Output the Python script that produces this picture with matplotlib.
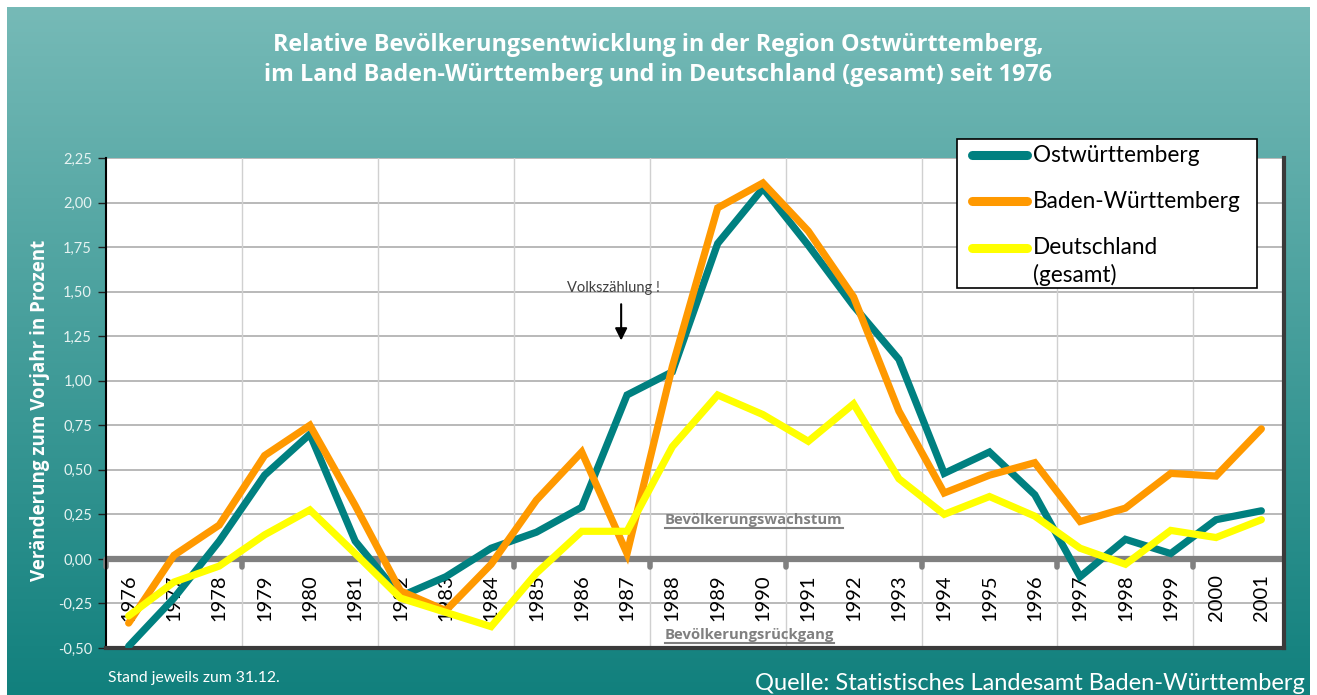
import numpy as np
import matplotlib
matplotlib.use("Agg")
import matplotlib.pyplot as plt
from matplotlib.lines import Line2D
from matplotlib.patches import Rectangle
from matplotlib.colors import LinearSegmentedColormap

years = [str(y) for y in range(1976, 2002)]
ostwuerttemberg = [-0.49, -0.22, 0.10, 0.47, 0.70, 0.10, -0.21, -0.10, 0.06, 0.15,
                   0.29, 0.92, 1.05, 1.77, 2.08, 1.76, 1.42, 1.12, 0.48, 0.60,
                   0.36, -0.10, 0.11, 0.03, 0.22, 0.27]
baden_wuerttemberg = [-0.36, 0.02, 0.19, 0.58, 0.75, 0.30, -0.18, -0.29, -0.03, 0.33,
                      0.60, 0.03, 1.08, 1.97, 2.11, 1.84, 1.47, 0.83, 0.37, 0.47,
                      0.54, 0.21, 0.285, 0.48, 0.465, 0.73]
deutschland = [-0.32, -0.13, -0.04, 0.135, 0.275, 0.03, -0.22, -0.30, -0.38, -0.08,
               0.155, 0.155, 0.63, 0.92, 0.81, 0.66, 0.87, 0.45, 0.25, 0.35,
               0.24, 0.06, -0.03, 0.16, 0.12, 0.22]
series_names = ["Ostwürttemberg", "Baden-Württemberg", "Deutschland\n(gesamt)"]
series_colors = ["#008080", "#FF9900", "#FFFF00"]
yticks = [-0.5, -0.25, 0.0, 0.25, 0.5, 0.75, 1.0, 1.25, 1.5, 1.75, 2.0, 2.25]

W, H = 1317, 695
fig = plt.figure(figsize=(W / 100, H / 100), dpi=100)
fig.patch.set_facecolor("white")

# gradient background panel (light at top, dark at bottom)
bg = fig.add_axes([7 / W, 0, (1310 - 7) / W, 1 - 7 / H])
bg.set_axis_off()
cmap = LinearSegmentedColormap.from_list("g", ["#76bab7", "#11807d"])
grad = np.linspace(0, 1, 256).reshape(-1, 1)
bg.imshow(grad, aspect="auto", cmap=cmap, origin="upper")

left, right, bottom, top = 106 / W, 1284 / W, 1 - 648 / H, 1 - 158 / H
ax = fig.add_axes([left, bottom, right - left, top - bottom])
ax.set_facecolor("white")
x = np.arange(len(years))
ax.set_xlim(-0.5, len(years) - 0.5)
ax.set_ylim(-0.5, 2.25)

# grid
for v in yticks:
    ax.axhline(v, color="#a6a6a6", lw=1.1, zorder=1)
for b in np.arange(2.5, len(years) - 0.5, 3):
    ax.axvline(b, color="#d0d0d0", lw=1.0, zorder=1)

# zero line with nubs
ax.axhline(0, color="#808080", lw=4.5, zorder=2, solid_capstyle="butt")
for b in np.arange(-0.5, len(years) - 0.5, 3):
    ax.plot([b, b], [0, -0.045], color="#808080", lw=4, solid_capstyle="round", zorder=2, clip_on=False)

for vals, name, col in zip([ostwuerttemberg, baden_wuerttemberg, deutschland], series_names, series_colors):
    ax.plot(x, vals, color=col, lw=5.2, label=name, zorder=4, solid_joinstyle="miter", solid_capstyle="round")

# year labels below zero line
for xi, yr in zip(x, years):
    ax.text(xi, -0.085, yr, rotation=90, ha="center", va="top", fontsize=14.5,
            family="Lato", color="black", zorder=3)

ax.set_xticks([])
ax.set_yticks(yticks)
ax.set_yticklabels([f"{v:.2f}".replace(".", ",") for v in yticks], color="#e6f3f2",
                   fontsize=10.5, family="Lato")
ax.tick_params(axis="y", direction="out", length=6, width=1, color="#202020", pad=4)
ax.spines["top"].set_visible(False)
ax.spines["left"].set_color("black")
ax.spines["left"].set_linewidth(1.5)
ax.spines["bottom"].set_color("#3a3a3a")
ax.spines["bottom"].set_linewidth(3)
ax.spines["right"].set_color("#3a3a3a")
ax.spines["right"].set_linewidth(3)

# annotations
t1 = ax.text(11.84, 0.22, "Bevölkerungswachstum", fontsize=10.7, fontweight="bold",
             color="#808080", ha="left", va="center", family="Open Sans", zorder=5)
t2 = ax.text(11.84, -0.427, "Bevölkerungsrückgang", fontsize=10.7, fontweight="bold",
             color="#808080", ha="left", va="center", family="Open Sans", zorder=5)
ax.text(10.69, 1.52, "Volkszählung !", fontsize=10.5, color="#404040", ha="center",
        va="center", family="Lato", zorder=5)
ax.annotate("", xy=(10.87, 1.21), xytext=(10.87, 1.445),
            arrowprops=dict(arrowstyle="-|>", color="black", lw=1.5, mutation_scale=18), zorder=5)

# title
fig.text(658 / W, 1 - 45 / H, "Relative Bevölkerungsentwicklung in der Region Ostwürttemberg,",
         ha="center", va="center", fontsize=16.8, fontweight="bold", color="white", family="Open Sans")
fig.text(658 / W, 1 - 75 / H, "im Land Baden-Württemberg und in Deutschland (gesamt) seit 1976",
         ha="center", va="center", fontsize=16.8, fontweight="bold", color="white", family="Open Sans")

fig.text(40 / W, 1 - 410 / H, "Veränderung zum Vorjahr in Prozent", rotation=90,
         ha="center", va="center", fontsize=13.5, fontweight="bold", color="white", family="Open Sans")

fig.text(108 / W, 1 - 678 / H, "Stand jeweils zum 31.12.", ha="left", va="center",
         fontsize=11.3, color="white", family="Lato")
fig.text(1305 / W, 1 - 683 / H, "Quelle: Statistisches Landesamt Baden-Württemberg", ha="right",
         va="center", fontsize=17, color="white", family="Lato")

# legend box drawn in figure pixel layout
fig.add_artist(Rectangle((957 / W, 1 - 288 / H), 300 / W, 149 / H, transform=fig.transFigure,
                         facecolor="white", edgecolor="black", lw=1.2, zorder=10))
row_y = [155, 201, 248]
for ry, name, col in zip(row_y, series_names, series_colors):
    fig.add_artist(Line2D([972 / W, 1027 / W], [1 - ry / H, 1 - ry / H], transform=fig.transFigure,
                          color=col, lw=6.5, solid_capstyle="round", zorder=11))
    lines = name.split("\n")
    for k, ln in enumerate(lines):
        fig.text(1033 / W, 1 - (ry + 27 * k) / H, ln, ha="left", va="center", fontsize=16.3,
                 family="Lato", color="black", zorder=12)

# underline annotations
fig.canvas.draw()
r = fig.canvas.get_renderer()
for t in (t1, t2):
    bb = t.get_window_extent(r)
    fig.add_artist(Line2D([bb.x0 / W, bb.x1 / W], [(bb.y0 - 1) / H, (bb.y0 - 1) / H],
                          transform=fig.transFigure, color="#808080", lw=1.5))

fig.savefig("out.png", dpi=100)
